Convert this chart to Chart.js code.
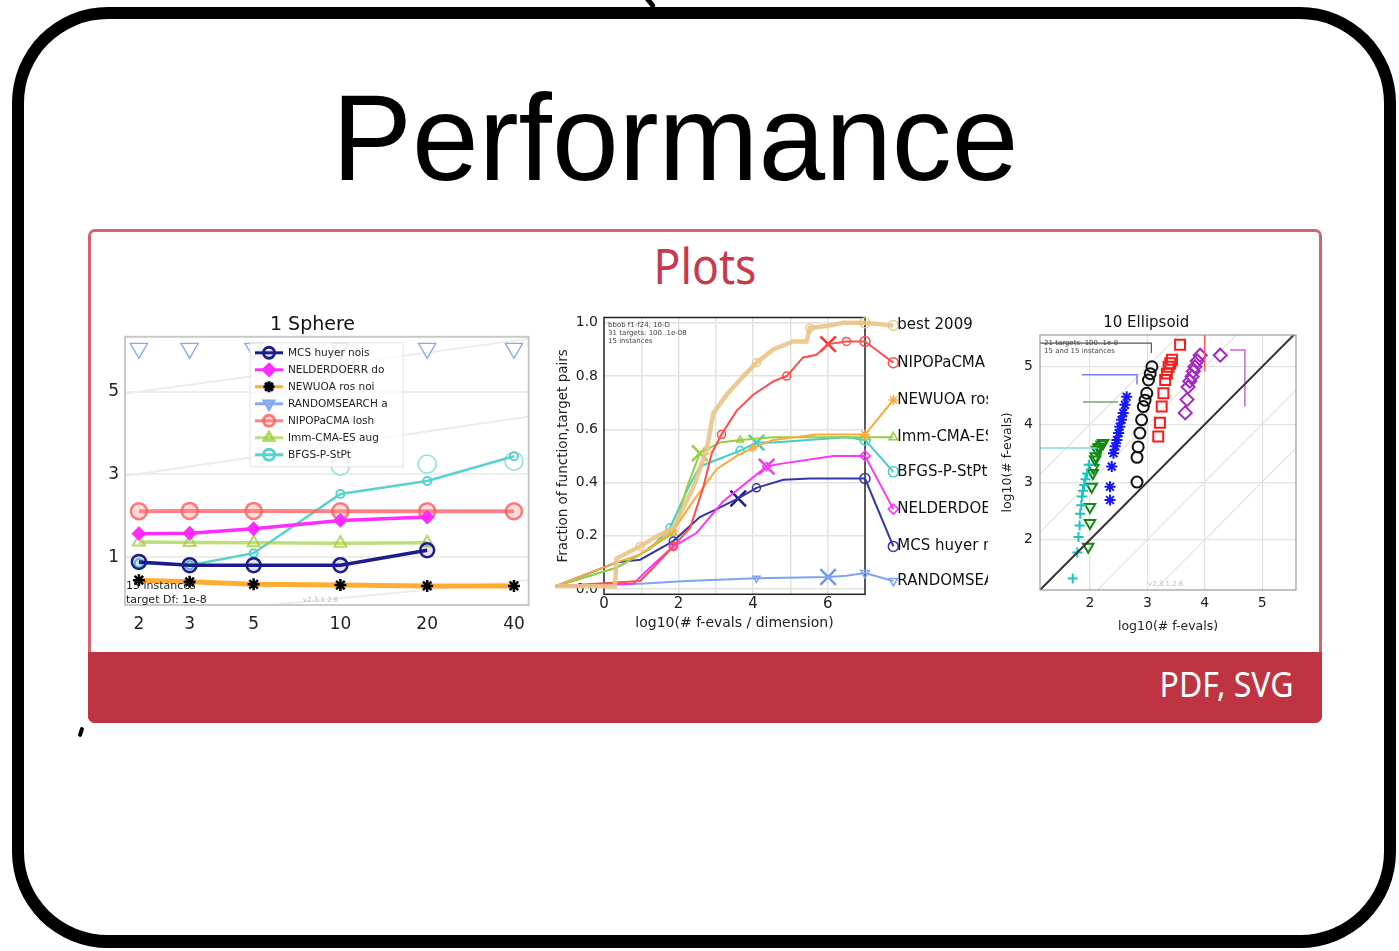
<!DOCTYPE html>
<html>
<head>
<meta charset="utf-8">
<title>Performance</title>
<script src="https://cdn.jsdelivr.net/npm/chart.js@4.4.1/dist/chart.umd.min.js"></script>
<style>
  html, body { margin: 0; padding: 0; background: #fff; }
  body { width: 1399px; height: 951px; position: relative; overflow: hidden; font-family: "Liberation Sans", Arial, sans-serif; }
  .slide { position: absolute; left: 12px; top: 7px; width: 1360px; height: 916px; border: 12px solid #000; border-bottom-width: 13px; border-radius: 96px; }
  .hook { position: absolute; left: 647px; top: -6px; width: 5px; height: 15px; background: #000; border-radius: 2px; transform: rotate(-38deg); }
  .nick { position: absolute; left: 79px; top: 727px; width: 4px; height: 10px; background: #000; border-radius: 2px; transform: rotate(18deg); }
  h1 { position: absolute; left: 332px; top: 76px; margin: 0; font-weight: normal; font-size: 123px; line-height: 123px; color: #000; transform: scaleX(0.975); transform-origin: 0 0; }
  .card { position: absolute; left: 88px; top: 229px; width: 1228px; height: 488px; border: 3px solid #d46371; border-radius: 7px; }
  .card-title { position: absolute; left: 88px; top: 241px; width: 1234px; text-align: center; font-family: "Noto Sans", sans-serif; font-size: 49px; line-height: 49px; color: #c83a4c; transform: scaleX(0.91); }
  .footer { position: absolute; left: 88px; top: 652px; width: 1234px; height: 71px; background: #bf3442; border-radius: 0 0 7px 7px; }
  .footer span { position: absolute; right: 29px; top: 15px; font-family: "Noto Sans", sans-serif; font-size: 34px; line-height: 34px; color: #fff; transform: scaleX(0.94); transform-origin: 100% 0; white-space: nowrap; }
  .plot { position: absolute; }
</style>
</head>
<body>
<div class="slide"></div>
<div class="hook"></div>
<div class="nick"></div>
<h1>Performance</h1>
<div class="card"></div>
<div class="card-title">Plots</div>
<div class="plot" style="left:95px;top:300px;width:445px;height:345px"><canvas id="sphere"></canvas></div>
<div class="plot" style="left:540px;top:300px;width:448px;height:345px"><canvas id="ecdf"></canvas></div>
<div class="plot" style="left:995px;top:300px;width:312px;height:345px"><canvas id="scatter"></canvas></div>
<div class="footer"><span>PDF, SVG</span></div>

<script>
// ---- 1 Sphere: log10(ERT / dimension) per dimension ----
const sphereDims = [2, 3, 5, 10, 20, 40];
const sphereYTicks = [1, 3, 5];
const mcsErt = [0.89, 0.81, 0.81, 0.81, 1.17];
const nelderErt = [1.57, 1.58, 1.69, 1.89, 1.97];
const newuoaErt = [0.45, 0.41, 0.35, 0.33, 0.31, 0.31];
const randomErt = [6.04, 6.04, 6.04, 6.04, 6.04, 6.04];
const nipopErt = [2.11, 2.12, 2.12, 2.11, 2.11, 2.11];
const immErt = [1.37, 1.36, 1.35, 1.34, 1.35];
const bfgsErt = [0.86, 0.81, 1.1, 2.53, 2.84, 3.44];
const bfgsWorst = [null, null, null, 3.2, 3.25, 3.32];
const sphereGuideX = [1.79, 45];
const sphereGuideA = [4.95, 6.27];
const sphereGuideB = [2.96, 4.4];
const sphereGuideC = [-0.48, 0.45];

// ---- ECDF, bbob f1-f24 10-D ----
const ecdfXTicks = [0, 1, 2, 3, 4, 5, 6, 7];
const ecdfYTicks = [0, 0.2, 0.4, 0.6, 0.8, 1.0];
const bestX = [-1.31, 0.29, 0.34, 0.97, 1.32, 1.86, 2.39, 2.75, 2.93, 3.29, 3.74, 4.09, 4.54, 5.08, 5.43, 5.52, 6.06, 6.42, 7.0, 7.76];
const bestY = [0.01, 0.01, 0.115, 0.16, 0.19, 0.23, 0.38, 0.52, 0.66, 0.73, 0.80, 0.85, 0.90, 0.93, 0.93, 0.98, 0.99, 1.0, 1.0, 0.99];
const nipopX = [-1.31, 0.97, 1.32, 1.86, 2.31, 2.66, 2.89, 3.15, 3.56, 4.0, 4.54, 4.9, 5.34, 5.7, 6.01, 6.5, 7.0, 7.76];
const nipopY = [0.01, 0.03, 0.08, 0.16, 0.23, 0.38, 0.51, 0.58, 0.67, 0.73, 0.78, 0.80, 0.87, 0.88, 0.92, 0.93, 0.93, 0.85];
const newuoaX = [-1.31, 0.34, 0.97, 1.86, 2.39, 3.02, 3.56, 4.0, 4.54, 5.7, 7.0, 7.76];
const newuoaY = [0.01, 0.10, 0.13, 0.22, 0.33, 0.45, 0.50, 0.53, 0.56, 0.58, 0.58, 0.71];
const immX = [-1.31, 0.34, 0.97, 1.86, 2.22, 2.57, 3.11, 3.65, 4.54, 7.0, 7.76];
const immY = [0.01, 0.08, 0.13, 0.21, 0.38, 0.51, 0.55, 0.56, 0.57, 0.57, 0.57];
const bfgsX = [-1.31, 0.34, 1.23, 1.77, 2.26, 2.57, 2.93, 3.65, 4.09, 4.54, 6.5, 7.0, 7.76];
const bfgsY = [0.01, 0.08, 0.15, 0.23, 0.38, 0.46, 0.48, 0.52, 0.55, 0.55, 0.57, 0.56, 0.44];
const nelderX = [-1.31, 0.79, 1.23, 1.86, 2.48, 3.2, 3.65, 4.36, 4.72, 6.15, 7.0, 7.76];
const nelderY = [0.01, 0.02, 0.08, 0.16, 0.21, 0.33, 0.38, 0.46, 0.47, 0.50, 0.50, 0.30];
const mcsX = [-1.31, 0.34, 0.97, 1.86, 2.57, 3.02, 3.6, 4.09, 4.81, 5.52, 7.0, 7.76];
const mcsY = [0.01, 0.10, 0.11, 0.18, 0.27, 0.30, 0.34, 0.38, 0.41, 0.415, 0.415, 0.16];
const randomX = [-1.31, 0.97, 2.22, 4.09, 6.01, 6.5, 7.0, 7.76];
const randomY = [0.01, 0.02, 0.03, 0.04, 0.045, 0.05, 0.06, 0.03];
const ecdfCrossX = [6.01, 2.57, 4.09, 4.36, 3.6, 6.01];
const ecdfCrossY = [0.92, 0.51, 0.55, 0.46, 0.34, 0.045];

// ---- 10 Ellipsoid: scatter of log10(# f-evals) ----
const ellTicks = [2, 3, 4, 5];
const cyanX = [1.70, 1.78, 1.80, 1.82, 1.83, 1.85, 1.86, 1.88, 1.90, 1.92, 1.95, 1.98];
const cyanY = [1.33, 1.78, 2.05, 2.25, 2.45, 2.60, 2.75, 2.85, 2.95, 3.05, 3.15, 3.30];
const greenX = [1.97, 2.0, 2.0, 2.03, 2.05, 2.06, 2.09, 2.10, 2.12, 2.15, 2.17, 2.20, 2.23];
const greenY = [1.88, 2.29, 2.57, 2.92, 3.16, 3.25, 3.39, 3.45, 3.56, 3.60, 3.61, 3.65, 3.68];
const blueX = [2.35, 2.35, 2.38, 2.41, 2.44, 2.47, 2.50, 2.52, 2.55, 2.58, 2.61, 2.64];
const blueY = [2.69, 2.92, 3.27, 3.50, 3.62, 3.73, 3.85, 3.96, 4.08, 4.20, 4.34, 4.48];
const blackX = [2.82, 2.82, 2.84, 2.87, 2.90, 2.93, 2.96, 2.99, 3.02, 3.05, 3.08];
const blackY = [3.0, 3.43, 3.61, 3.85, 4.08, 4.31, 4.42, 4.54, 4.77, 4.88, 5.0];
const redX = [3.19, 3.22, 3.25, 3.28, 3.31, 3.34, 3.37, 3.40, 3.43, 3.57];
const redY = [3.79, 4.03, 4.31, 4.54, 4.77, 4.88, 5.0, 5.06, 5.12, 5.38];
const purpleX = [3.66, 3.69, 3.71, 3.74, 3.78, 3.80, 3.83, 3.87, 3.92, 4.27];
const purpleY = [4.20, 4.43, 4.65, 4.75, 4.83, 4.92, 5.0, 5.10, 5.20, 5.20];
const cyanCapX = [1.13, 2.12];
const cyanCapY = [3.59, 3.59];
const greenCapX = [1.88, 2.49];
const greenCapY = [4.39, 4.39];
const blueCapX = [1.86, 2.82, 2.82];
const blueCapY = [4.86, 4.86, 4.69];
const blackCapX = [1.13, 3.07, 3.07];
const blackCapY = [5.41, 5.41, 5.24];
const redCapX = [4.0, 4.0];
const redCapY = [5.6, 4.92];
const purpleCapX = [4.44, 4.70, 4.70];
const purpleCapY = [5.29, 5.29, 4.31];
const diagX = [1.0, 5.6];
const diagY = [1.0, 5.6];
const diagUp1Y = [2.0, 6.6];
const diagUp2Y = [3.0, 7.6];
const diagDown1Y = [0.0, 4.6];
const diagDown2Y = [-1.0, 3.6];

Chart.defaults.font.family = '"DejaVu Sans", sans-serif';
Chart.defaults.color = '#222';
Chart.defaults.animation = false;

const pts = (xs, ys) => xs.map((x, i) => ({ x: x, y: ys[i] })).filter(p => p.y !== null && p.y !== undefined);
const setTicks = list => scale => { scale.ticks = list.map(v => ({ value: v })); };

// -------- chart 1 --------
const sphereDecor = {
  id: 'sphereDecor',
  afterDatasetsDraw(chart) {
    const { ctx, chartArea: a } = chart;
    ctx.save();
    ctx.strokeStyle = '#c9c9c9';
    ctx.lineWidth = 2;
    ctx.strokeRect(a.left, a.top, a.right - a.left, a.bottom - a.top);

    // legend inside the axes
    const entries = chart.data.datasets.filter(d => d.inLegend);
    const lx = a.left + 125, ly = a.top + 6, rowH = 17;
    ctx.fillStyle = 'rgba(255,255,255,0.75)';
    ctx.fillRect(lx, ly, 153, rowH * entries.length + 5);
    ctx.strokeStyle = '#e4e4e4';
    ctx.lineWidth = 1;
    ctx.strokeRect(lx, ly, 153, rowH * entries.length + 5);
    entries.forEach((d, i) => {
      const y = ly + 10 + i * rowH;
      ctx.strokeStyle = d.borderColor;
      ctx.lineWidth = 3;
      ctx.beginPath();
      ctx.moveTo(lx + 5, y);
      ctx.lineTo(lx + 33, y);
      ctx.stroke();
      ctx.fillStyle = d.pointBackgroundColor;
      ctx.strokeStyle = d.pointBorderColor;
      Chart.helpers.drawPoint(ctx, { pointStyle: d.pointStyle, radius: 5.5, rotation: d.pointRotation || 0, borderWidth: 1.5 }, lx + 19, y);
      ctx.fillStyle = '#222';
      ctx.font = '10.5px "DejaVu Sans"';
      ctx.textBaseline = 'middle';
      ctx.textAlign = 'left';
      ctx.fillText(d.label, lx + 38, y + 0.5);
    });

    ctx.fillStyle = '#222';
    ctx.font = '11px "DejaVu Sans"';
    ctx.textBaseline = 'middle';
    ctx.fillText('15 instances', a.left + 1, a.bottom - 19);
    ctx.fillText('target Df: 1e-8', a.left + 1, a.bottom - 5);
    ctx.fillStyle = '#bbb';
    ctx.font = '7px "DejaVu Sans"';
    ctx.fillText('v2.3.1.2.6', a.left + 178, a.bottom - 5);
    ctx.restore();
  }
};

function sphereLine(label, values, color, width, marker, fill, border, radius, extra) {
  return Object.assign({
    label: label, inLegend: true, data: pts(sphereDims, values),
    borderColor: color, borderWidth: width, pointStyle: marker,
    pointBackgroundColor: fill, pointBorderColor: border, pointRadius: radius,
    pointBorderWidth: 2, tension: 0
  }, extra || {});
}

new Chart(document.getElementById('sphere'), {
  type: 'line',
  data: {
    datasets: [
      sphereLine('MCS huyer nois', mcsErt, '#1c1c8f', 3.5, 'circle', 'rgba(28,28,143,0.12)', '#1c1c8f', 7, { pointBorderWidth: 2.5 }),
      sphereLine('NELDERDOERR do', nelderErt, '#ff2bff', 3.5, 'rectRot', '#ff2bff', '#ff2bff', 6),
      sphereLine('NEWUOA ros noi', newuoaErt, 'rgba(255,164,28,0.9)', 5, 'star', '#000', '#000', 6, { pointBorderWidth: 2.5 }),
      sphereLine('RANDOMSEARCH a', randomErt, '#86aaf2', 2, 'triangle', 'rgba(0,0,0,0)', '#86aaf2', 10, { showLine: false, pointRotation: 180, pointBorderWidth: 1.3 }),
      sphereLine('NIPOPaCMA losh', nipopErt, 'rgba(255,90,90,0.75)', 4, 'circle', 'rgba(255,140,140,0.3)', 'rgba(255,90,90,0.8)', 8, { pointBorderWidth: 2.5 }),
      sphereLine('Imm-CMA-ES aug', immErt, 'rgba(154,205,50,0.65)', 3.5, 'triangle', 'rgba(0,0,0,0)', 'rgba(154,205,50,0.75)', 7),
      sphereLine('BFGS-P-StPt', bfgsErt, '#57d2cd', 2.5, 'circle', 'rgba(0,0,0,0)', '#57d2cd', 4),
      { label: '', data: pts(sphereDims, bfgsWorst), showLine: false, pointRadius: 9, pointBorderWidth: 1.5, pointBorderColor: '#8fe0dc', pointBackgroundColor: 'rgba(0,0,0,0)' },
      { label: '', data: pts(sphereGuideX, sphereGuideA), borderColor: '#ececec', borderWidth: 2, pointRadius: 0, order: 10 },
      { label: '', data: pts(sphereGuideX, sphereGuideB), borderColor: '#ececec', borderWidth: 2, pointRadius: 0, order: 10 },
      { label: '', data: pts(sphereGuideX, sphereGuideC), borderColor: '#ececec', borderWidth: 2, pointRadius: 0, order: 10 }
    ]
  },
  options: {
    responsive: true,
    maintainAspectRatio: false,
    layout: { padding: { left: 0, right: 10, top: 0, bottom: 0 } },
    plugins: {
      legend: { display: false },
      tooltip: { enabled: false },
      title: { display: true, text: '1 Sphere', color: '#111', font: { size: 19, weight: 'normal' }, padding: { top: 14, bottom: 0 } }
    },
    scales: {
      x: {
        type: 'logarithmic', min: 1.79, max: 45,
        afterBuildTicks: setTicks(sphereDims),
        afterFit: s => { s.height = 40; },
        ticks: { font: { size: 17 }, padding: 1, autoSkip: false, maxRotation: 0, callback: v => String(v) },
        grid: { display: false },
        border: { display: false }
      },
      y: {
        min: -0.15, max: 6.32,
        afterBuildTicks: setTicks(sphereYTicks),
        afterFit: s => { s.width = 30; },
        ticks: { font: { size: 17 }, padding: 6 },
        grid: { color: '#ececec', lineWidth: 2, drawTicks: false },
        border: { display: false }
      }
    }
  },
  plugins: [sphereDecor]
});

// -------- chart 2 --------
const ecdfSeries = [
  { label: 'best 2009', xs: bestX, ys: bestY, color: 'rgba(233,196,136,0.9)', width: 4.5, marker: 'circle' },
  { label: 'NIPOPaCMA losh', xs: nipopX, ys: nipopY, color: '#ff4d4d', width: 2, marker: 'circle' },
  { label: 'NEWUOA ros noi', xs: newuoaX, ys: newuoaY, color: '#ffa93a', width: 2, marker: 'star' },
  { label: 'Imm-CMA-ES aug', xs: immX, ys: immY, color: '#98cf3e', width: 2, marker: 'triangle' },
  { label: 'BFGS-P-StPt', xs: bfgsX, ys: bfgsY, color: '#3fcfc8', width: 2, marker: 'circle' },
  { label: 'NELDERDOERR do', xs: nelderX, ys: nelderY, color: '#ff33ff', width: 2, marker: 'rectRot' },
  { label: 'MCS huyer nois', xs: mcsX, ys: mcsY, color: '#3535a8', width: 2, marker: 'circle' },
  { label: 'RANDOMSEARCH a', xs: randomX, ys: randomY, color: '#7ea4f0', width: 2, marker: 'triangle' }
];

const ecdfDecor = {
  id: 'ecdfDecor',
  beforeDatasetsDraw(chart) {
    const { ctx, chartArea: a } = chart;
    ctx.save();
    ctx.strokeStyle = '#222';
    ctx.lineWidth = 1.5;
    ctx.strokeRect(a.left, a.top, a.right - a.left, a.bottom - a.top);
    ctx.restore();
  },
  afterDatasetsDraw(chart) {
    const { ctx, chartArea: a } = chart;
    ctx.save();
    chart.data.datasets.forEach((d, i) => {
      if (!d.endLabel) return;
      const meta = chart.getDatasetMeta(i);
      const last = meta.data[meta.data.length - 1];
      // end marker sits outside the axes box, so draw it here
      ctx.strokeStyle = d.borderColor;
      ctx.fillStyle = 'rgba(255,255,255,0)';
      Chart.helpers.drawPoint(ctx, { pointStyle: d.pointStyle, radius: 5, rotation: d.pointRotation, borderWidth: 1.5 }, last.x, last.y);
      ctx.font = '15px "DejaVu Sans"';
      ctx.fillStyle = '#111';
      ctx.textBaseline = 'middle';
      ctx.fillText(d.endLabel, last.x + 4, last.y);
    });
    ctx.fillStyle = '#444';
    ctx.font = '7px "DejaVu Sans"';
    ctx.textBaseline = 'alphabetic';
    ctx.fillText('bbob f1-f24, 10-D', a.left + 4, a.top + 9);
    ctx.fillText('31 targets: 100..1e-08', a.left + 4, a.top + 17);
    ctx.fillText('15 instances', a.left + 4, a.top + 25);
    ctx.restore();
  }
};

const ecdfDatasets = ecdfSeries.map(s => ({
  label: s.label, endLabel: s.label, data: pts(s.xs, s.ys),
  borderColor: s.color, borderWidth: s.width, tension: 0, clip: false,
  pointStyle: s.marker, pointRotation: s.label.startsWith('RANDOM') ? 180 : 0,
  pointBorderColor: s.color, pointBackgroundColor: 'rgba(255,255,255,0)', pointBorderWidth: 1.5,
  pointRadius: ctx => {
    const n = ctx.dataset.data.length;
    if (ctx.dataIndex >= n - 2) return 5;
    return (ctx.dataIndex % 4 === 3) ? 4 : 0;
  }
}));
ecdfDatasets.push({
  label: '', data: pts(ecdfCrossX, ecdfCrossY), showLine: false, clip: false,
  pointStyle: 'crossRot', pointRadius: 11, pointBorderWidth: 2.5,
  pointBorderColor: ['#ff3030', '#9ace45', '#3fcfc8', '#ff33ff', '#1c1c8f', '#6f97ee']
});

new Chart(document.getElementById('ecdf'), {
  type: 'line',
  data: { datasets: ecdfDatasets },
  options: {
    responsive: true,
    maintainAspectRatio: false,
    layout: { padding: { left: 11, right: 123, top: 17.5, bottom: 9 } },
    plugins: { legend: { display: false }, tooltip: { enabled: false } },
    scales: {
      x: {
        type: 'linear',
        bounds: 'data',
        // bounds set after data limits so the curves' tails past 0 and 7 still get drawn
        afterDataLimits: s => { s.min = 0; s.max = 7; },
        afterBuildTicks: setTicks(ecdfXTicks),
        afterFit: s => { s.height = 41.7; },
        ticks: { font: { size: 15 }, padding: 1, autoSkip: false, maxRotation: 0, callback: v => (v % 2 === 0 && v < 7) ? String(v) : '' },
        grid: { color: c => (c.tick && (c.tick.value === 0 || c.tick.value === 7)) ? 'rgba(0,0,0,0)' : '#e2e2e2', lineWidth: 1.5, drawTicks: false },
        border: { display: false },
        title: { display: true, text: 'log10(# f-evals / dimension)', font: { size: 14 }, color: '#222' }
      },
      y: {
        min: -0.02, max: 1.02,
        afterBuildTicks: setTicks(ecdfYTicks),
        afterFit: s => { s.width = 53; },
        ticks: { font: { size: 14 }, padding: 6, callback: v => v.toFixed(1) },
        grid: { color: '#e2e2e2', lineWidth: 1.5, drawTicks: false },
        border: { display: false },
        title: { display: true, text: 'Fraction of function,target pairs', font: { size: 13.5 }, color: '#222' }
      }
    }
  },
  plugins: [ecdfDecor]
});

// -------- chart 3 --------
const ellDecor = {
  id: 'ellDecor',
  afterDatasetsDraw(chart) {
    const { ctx, chartArea: a } = chart;
    ctx.save();
    ctx.strokeStyle = '#9a9a9a';
    ctx.lineWidth = 1.2;
    ctx.strokeRect(a.left, a.top, a.right - a.left, a.bottom - a.top);
    ctx.fillStyle = '#444';
    ctx.font = '7px "DejaVu Sans"';
    ctx.fillText('21 targets: 100..1e-8', a.left + 4, a.top + 10);
    ctx.fillText('15 and 15 instances', a.left + 4, a.top + 18);
    ctx.fillStyle = '#bbb';
    ctx.fillText('v2.3.1.2.6', a.left + 108, a.bottom - 4);
    ctx.restore();
  }
};

const marks = (xs, ys, style, color, radius, extra) => Object.assign({
  type: 'scatter', label: '', data: pts(xs, ys), pointStyle: style, pointRadius: radius,
  pointBorderColor: color, pointBackgroundColor: 'rgba(0,0,0,0)', pointBorderWidth: 2
}, extra || {});
const segs = (xs, ys, color, width, extra) => Object.assign({
  type: 'line', label: '', data: pts(xs, ys), borderColor: color, borderWidth: width, pointRadius: 0, tension: 0
}, extra || {});

new Chart(document.getElementById('scatter'), {
  type: 'scatter',
  data: {
    datasets: [
      segs(diagX, diagY, '#333', 2),
      segs(diagX, diagUp1Y, '#e3e3e3', 1.2, { order: 5 }),
      segs(diagX, diagUp2Y, '#e3e3e3', 1.2, { order: 5 }),
      segs(diagX, diagDown1Y, '#e3e3e3', 1.2, { order: 5 }),
      segs(diagX, diagDown2Y, '#e3e3e3', 1.2, { order: 5 }),
      segs(cyanCapX, cyanCapY, '#7fe0e0', 1.5),
      segs(greenCapX, greenCapY, '#6aa86a', 1.5),
      segs(blueCapX, blueCapY, '#7a7aff', 1.5),
      segs(blackCapX, blackCapY, '#555', 1.2),
      segs(redCapX, redCapY, '#ff5a5a', 1.5),
      segs(purpleCapX, purpleCapY, '#cc66dd', 1.5),
      marks(cyanX, cyanY, 'cross', '#1bc4c4', 5),
      marks(greenX, greenY, 'triangle', '#108a10', 6, { pointRotation: 180 }),
      marks(blueX, blueY, 'star', '#1515ff', 5.5),
      marks(blackX, blackY, 'circle', '#111', 5.5),
      marks(redX, redY, 'rect', '#ff1a1a', 7),
      marks(purpleX, purpleY, 'rectRot', '#a526c4', 6.5)
    ]
  },
  options: {
    responsive: true,
    maintainAspectRatio: false,
    layout: { padding: { left: 1.5, right: 11, top: 0, bottom: 6.5 } },
    plugins: {
      legend: { display: false },
      tooltip: { enabled: false },
      title: { display: true, text: '10 Ellipsoid', color: '#111', font: { size: 15, weight: 'normal' }, padding: { top: 14, bottom: 3 } }
    },
    scales: {
      x: {
        type: 'linear', min: 1.13, max: 5.59,
        afterBuildTicks: setTicks(ellTicks),
        afterFit: s => { s.height = 48.5; },
        ticks: { font: { size: 14 }, padding: 5, autoSkip: false, maxRotation: 0 },
        grid: { color: '#e2e2e2', lineWidth: 1.2, drawTicks: false },
        border: { display: false },
        title: { display: true, text: 'log10(# f-evals)', font: { size: 12.5 }, color: '#222' }
      },
      y: {
        min: 1.13, max: 5.55,
        afterBuildTicks: setTicks(ellTicks),
        afterFit: s => { s.width = 43.5; },
        ticks: { font: { size: 14 }, padding: 7 },
        grid: { color: '#e2e2e2', lineWidth: 1.2, drawTicks: false },
        border: { display: false },
        title: { display: true, text: 'log10(# f-evals)', font: { size: 12.5 }, color: '#222' }
      }
    }
  },
  plugins: [ellDecor]
});
</script>
</body>
</html>
